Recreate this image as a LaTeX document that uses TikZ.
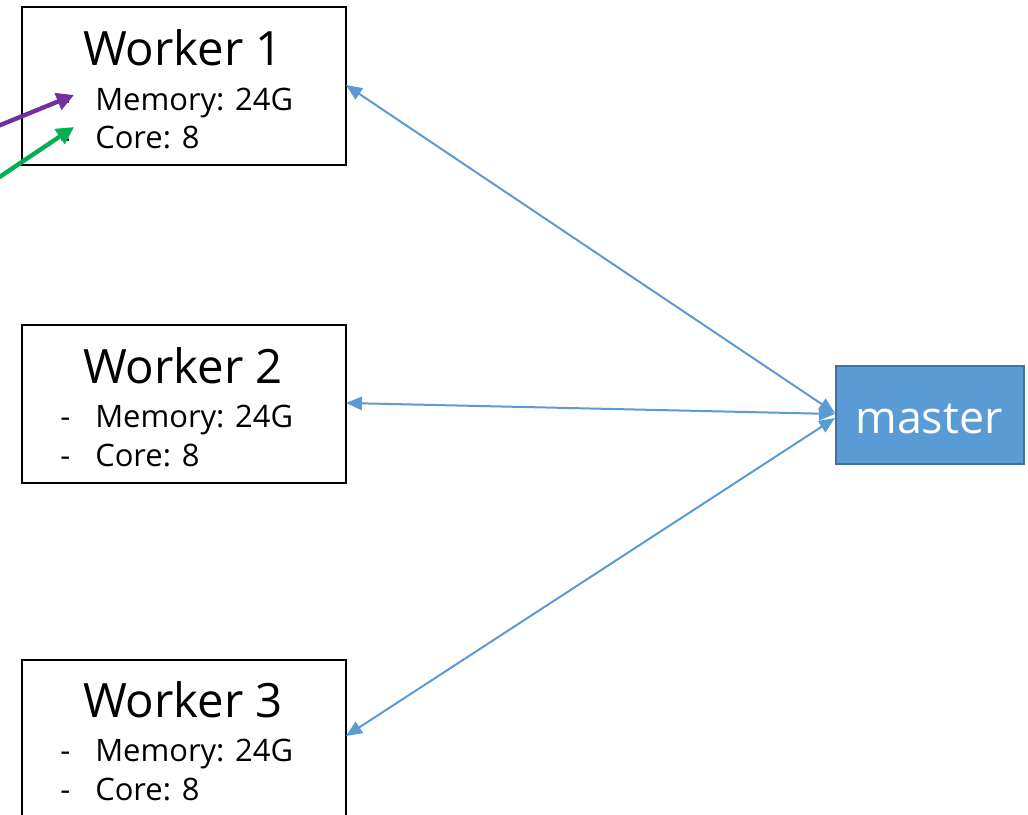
\documentclass[tikz,border=0pt]{standalone}
\usepackage{fontspec}
\setmainfont{Open Sans}
\usetikzlibrary{arrows.meta}
\definecolor{linkblue}{HTML}{5B9BD5}
\definecolor{masterfill}{HTML}{5B9BD5}
\definecolor{masterdraw}{HTML}{41719C}
\definecolor{mpurple}{HTML}{7030A0}
\definecolor{mgreen}{HTML}{00B050}
\begin{document}
\begin{tikzpicture}[x=0.75pt,y=-0.75pt,
  workerbox/.style={draw=black,line width=1.5pt,minimum width=243pt,minimum height=118.5pt,anchor=north west,inner sep=0pt},
  titletext/.style={font=\fontsize{35.5}{38}\selectfont,anchor=base,inner sep=0pt},
  itemtext/.style={font=\fontsize{23.2}{26}\selectfont,anchor=base west,inner sep=0pt},
  link/.style={draw=linkblue,line width=1.5pt,{Triangle[length=12pt,width=10pt]}-{Triangle[length=12pt,width=10pt]}},
  pointer/.style={line width=3.3pt,-{Triangle[length=13pt,width=13pt]}}]
\useasboundingbox (0,0) rectangle (1028,814);
% worker boxes
\node[workerbox] (w1) at (21,6) {};
\node[workerbox] (w2) at (21,324) {};
\node[workerbox] (w3) at (21,659) {};
% master
\node[draw=masterdraw,fill=masterfill,line width=1.5pt,minimum width=141pt,minimum height=73.5pt,inner sep=0pt,anchor=north west] (m) at (835,365) {};
\node[font=\fontsize{33.6}{36}\selectfont,text=white,anchor=base,inner sep=0pt] (mt) at (929,433) {master};
% worker texts
\node[titletext] (t1) at (183,65) {Worker 1};
\node[itemtext] (d1a) at (60,110) {-};
\node[itemtext] (i1a) at (95,110) {Memory: 24G};
\node[itemtext] (d1b) at (60,148) {-};
\node[itemtext] (i1b) at (95,148) {Core: 8};
\node[titletext] (t2) at (183,383) {Worker 2};
\node[itemtext] (d2a) at (60,427) {-};
\node[itemtext] (i2a) at (95,427) {Memory: 24G};
\node[itemtext] (d2b) at (60,466) {-};
\node[itemtext] (i2b) at (95,466) {Core: 8};
\node[titletext] (t3) at (183,717) {Worker 3};
\node[itemtext] (d3a) at (60,761) {-};
\node[itemtext] (i3a) at (95,761) {Memory: 24G};
\node[itemtext] (d3b) at (60,800) {-};
\node[itemtext] (i3b) at (95,800) {Core: 8};
% links
\coordinate (w1e) at (346,85);
\coordinate (w2e) at (346,403);
\coordinate (w3e) at (346,736);
\coordinate (m1) at (835,413);
\coordinate (m2) at (835,414);
\coordinate (m3) at (835,418);
\draw[link] (w1e) -- (m1);
\draw[link] (w2e) -- (m2);
\draw[link] (w3e) -- (m3);
% pointers
\coordinate (p1s) at (-2,126);
\coordinate (p1e) at (74,95);
\coordinate (p2s) at (-2,178);
\coordinate (p2e) at (74,127);
\draw[pointer,draw=mpurple,fill=mpurple] (p1s) -- (p1e);
\draw[pointer,draw=mgreen,fill=mgreen] (p2s) -- (p2e);
\end{tikzpicture}
\end{document}
